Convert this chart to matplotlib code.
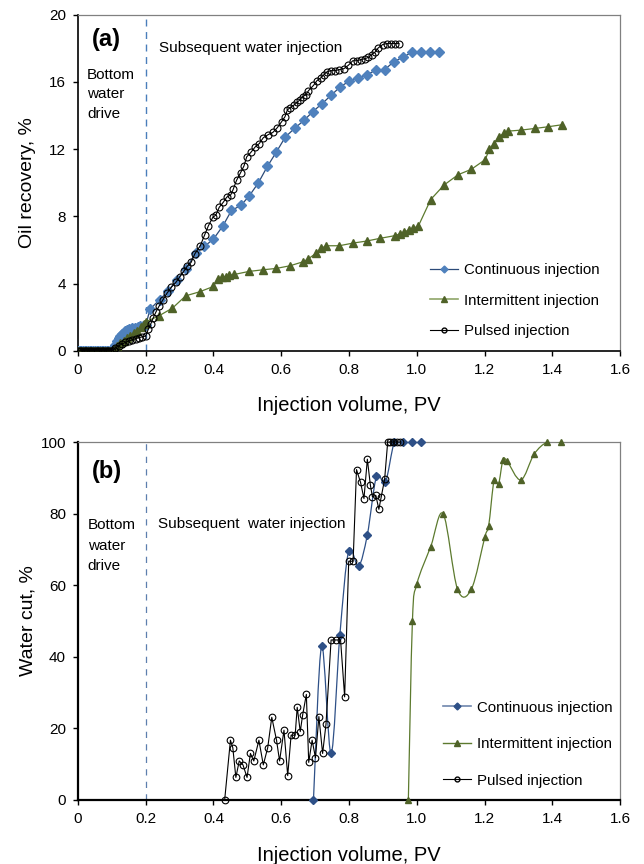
import numpy as np
import matplotlib
matplotlib.use('Agg')
import matplotlib.pyplot as plt
from matplotlib.path import Path
from matplotlib.patches import PathPatch
from matplotlib.lines import Line2D

plt.rcParams['font.family'] = ['Liberation Sans', 'DejaVu Sans']

# ---- panel (a): oil recovery ----
zero_pv = [0.000, 0.005, 0.010, 0.015, 0.020, 0.025, 0.030, 0.035, 0.040, 0.045, 0.050,
           0.055, 0.060, 0.065, 0.070, 0.075, 0.080, 0.085, 0.090, 0.095, 0.100]
zero_rec = [0.0] * 21

cont_pv_a = [0.105, 0.110, 0.115, 0.120, 0.125, 0.130, 0.138, 0.145, 0.152, 0.160, 0.168,
             0.176, 0.184, 0.192, 0.200, 0.213, 0.241, 0.267, 0.292, 0.318, 0.347,
             0.373, 0.400, 0.428, 0.453, 0.481, 0.506, 0.532, 0.559, 0.585, 0.612,
             0.640, 0.667, 0.693, 0.720, 0.748, 0.773, 0.799, 0.826, 0.852, 0.879,
             0.905, 0.932, 0.960, 0.985, 1.011, 1.038, 1.064]
cont_rec_a = [0.10, 0.35, 0.60, 0.75, 0.87, 0.97, 1.15, 1.23, 1.28, 1.33, 1.38,
              1.42, 1.46, 1.50, 1.52, 2.48, 3.04, 3.57, 4.23, 4.86, 5.81,
              6.21, 6.65, 7.44, 8.35, 8.65, 9.23, 9.98, 10.97, 11.81, 12.72,
              13.25, 13.71, 14.23, 14.70, 15.22, 15.69, 16.03, 16.23, 16.43, 16.69,
              16.73, 17.20, 17.48, 17.76, 17.76, 17.76, 17.76]

int_pv_a = [0.105, 0.115, 0.125, 0.135, 0.145, 0.155, 0.165, 0.175, 0.185, 0.195, 0.200,
            0.239, 0.279, 0.318, 0.359, 0.400, 0.412, 0.424, 0.436, 0.447, 0.461,
            0.504, 0.546, 0.585, 0.626, 0.665, 0.679, 0.703, 0.718, 0.732, 0.771,
            0.812, 0.852, 0.891, 0.935, 0.949, 0.962, 0.976, 0.990, 1.004, 1.041,
            1.080, 1.122, 1.161, 1.202, 1.214, 1.228, 1.242, 1.256, 1.269, 1.307,
            1.348, 1.387, 1.428]
int_rec_a = [0.10, 0.30, 0.45, 0.60, 0.75, 0.90, 1.05, 1.20, 1.40, 1.60, 1.72,
             2.08, 2.54, 3.27, 3.51, 3.83, 4.27, 4.38, 4.42, 4.48, 4.54,
             4.72, 4.82, 4.90, 5.06, 5.30, 5.46, 5.81, 6.09, 6.25, 6.25,
             6.41, 6.53, 6.69, 6.85, 6.95, 7.05, 7.19, 7.31, 7.40, 9.00,
             9.86, 10.48, 10.80, 11.38, 11.99, 12.33, 12.73, 12.93, 13.07, 13.13,
             13.23, 13.33, 13.45]

pul_pv_a = [0.105, 0.110, 0.120, 0.130, 0.140, 0.150, 0.160, 0.170, 0.180, 0.190, 0.200,
            0.208, 0.215, 0.222, 0.230, 0.239, 0.251, 0.263, 0.276, 0.289, 0.300,
            0.312, 0.322, 0.334, 0.345, 0.361, 0.374, 0.385, 0.398, 0.407, 0.417,
            0.429, 0.439, 0.451, 0.458, 0.468, 0.480, 0.490, 0.498, 0.510, 0.523,
            0.535, 0.547, 0.562, 0.575, 0.588, 0.601, 0.611, 0.618, 0.626, 0.638,
            0.647, 0.655, 0.663, 0.673, 0.680, 0.695, 0.705, 0.716, 0.726, 0.734,
            0.746, 0.759, 0.771, 0.785, 0.798, 0.811, 0.823, 0.834, 0.847, 0.857,
            0.867, 0.877, 0.886, 0.899, 0.911, 0.923, 0.935, 0.947]
pul_rec_a = [0.05, 0.15, 0.30, 0.40, 0.50, 0.58, 0.65, 0.72, 0.78, 0.83, 0.88,
             1.30, 1.60, 1.95, 2.30, 2.64, 3.04, 3.43, 3.79, 4.07, 4.38,
             4.72, 5.02, 5.26, 5.77, 6.25, 6.90, 7.44, 7.94, 8.08, 8.54,
             8.84, 9.14, 9.28, 9.60, 10.14, 10.60, 11.00, 11.54, 11.80, 12.13,
             12.33, 12.68, 12.87, 12.99, 13.27, 13.63, 13.93, 14.33, 14.47, 14.63,
             14.79, 14.93, 15.13, 15.23, 15.47, 15.79, 16.07, 16.23, 16.43, 16.59,
             16.67, 16.67, 16.73, 16.79, 16.99, 17.26, 17.26, 17.32, 17.38, 17.46,
             17.62, 17.78, 18.02, 18.22, 18.28, 18.28, 18.28, 18.28]

# ---- panel (b): water cut ----
cont_pv_b = [0.695, 0.719, 0.747, 0.773, 0.799, 0.828, 0.854, 0.881, 0.907, 0.934,
             0.960, 0.986, 1.012]
cont_wc_b = [0.0, 43.0, 13.0, 46.2, 69.6, 65.3, 74.1, 90.4, 88.7, 100.0,
             100.0, 100.0, 100.0]

int_pv_b = [0.975, 0.987, 1.000, 1.041, 1.078, 1.120, 1.161, 1.201, 1.212, 1.228,
            1.241, 1.254, 1.266, 1.307, 1.346, 1.385, 1.425]
int_wc_b = [0.0, 50.0, 60.3, 70.8, 79.9, 58.9, 58.9, 73.6, 76.6, 89.4,
            88.2, 95.0, 94.7, 89.4, 96.6, 100.0, 100.0]

pul_pv_b = [0.433, 0.450, 0.457, 0.466, 0.476, 0.487, 0.499, 0.509, 0.519, 0.534,
            0.547, 0.560, 0.572, 0.586, 0.595, 0.608, 0.619, 0.629, 0.641, 0.647,
            0.656, 0.663, 0.674, 0.681, 0.691, 0.701, 0.711, 0.722, 0.732, 0.747,
            0.762, 0.775, 0.787, 0.799, 0.812, 0.822, 0.834, 0.844, 0.854, 0.863,
            0.869, 0.879, 0.888, 0.895, 0.905, 0.914, 0.921, 0.929, 0.941, 0.951]
pul_wc_b = [0.0, 16.7, 14.6, 6.3, 10.9, 9.8, 6.3, 13.0, 10.9, 16.7,
            9.8, 14.6, 23.1, 16.7, 10.9, 19.5, 6.8, 18.1, 18.1, 25.9,
            19.1, 23.7, 29.5, 10.5, 16.7, 11.8, 23.3, 13.0, 21.2, 44.7,
            44.7, 44.7, 28.8, 66.7, 66.7, 92.3, 88.7, 84.2, 95.2, 87.9,
            84.7, 85.1, 81.2, 84.7, 89.6, 100.0, 100.0, 100.0, 100.0, 100.0]

labels = ['Continuous injection', 'Intermittent injection', 'Pulsed injection']
x_ticks = [0, 0.2, 0.4, 0.6, 0.8, 1.0, 1.2, 1.4, 1.6]
x_ticklabels = ['0', '0.2', '0.4', '0.6', '0.8', '1.0', '1.2', '1.4', '1.6']


def smooth_line(ax, x, y, **kw):
    # excel style smoothed line, catmull-rom as cubic bezier segments
    pts = np.column_stack([x, y])
    verts = [pts[0]]
    codes = [Path.MOVETO]
    n = len(pts)
    for i in range(n - 1):
        p0 = pts[i - 1] if i > 0 else pts[i]
        p1 = pts[i]
        p2 = pts[i + 1]
        p3 = pts[i + 2] if i + 2 < n else pts[i + 1]
        c1 = p1 + (p2 - p0) / 6.0
        c2 = p2 - (p3 - p1) / 6.0
        verts += [c1, c2, p2]
        codes += [Path.CURVE4] * 3
    ax.add_patch(PathPatch(Path(verts, codes), fill=False, **kw))


def style_axes(ax, lw_main):
    for s in ['top', 'right']:
        ax.spines[s].set_color('#808080')
        ax.spines[s].set_linewidth(0.9)
    for s in ['left', 'bottom']:
        ax.spines[s].set_color('black')
        ax.spines[s].set_linewidth(lw_main)
    ax.tick_params(direction='out', length=3.5, width=1.0, labelsize=11, pad=5)
    ax.set_xlim(0, 1.6)
    ax.set_xticks(x_ticks)
    ax.set_xticklabels(x_ticklabels)


fig = plt.figure(figsize=(6.44, 8.64), dpi=100)
ax1 = fig.add_axes([0.121, 0.594, 0.842, 0.389])
ax2 = fig.add_axes([0.121, 0.0741, 0.842, 0.4143])

# (a)
c_blue, c_blue_line = '#4F81BD', '#2B4A78'
c_green, c_green_line = '#4F6228', '#5C7A2E'

ax1.plot(zero_pv + cont_pv_a, zero_rec + cont_rec_a, color=c_blue_line, lw=0.9,
         marker='D', ms=4.8, mfc=c_blue, mec=c_blue, zorder=3)
ax1.plot(zero_pv + int_pv_a, zero_rec + int_rec_a, color=c_green_line, lw=0.9,
         marker='^', ms=5.5, mfc=c_green, mec=c_green, zorder=3)
ax1.plot(zero_pv + pul_pv_a, zero_rec + pul_rec_a, color='black', lw=0.8,
         marker='o', ms=5.0, mfc='none', mec='black', mew=0.8, zorder=4)
ax1.axvline(0.2, color='#4A7EBB', lw=1.0, ls=(0, (5, 4)), zorder=2)
style_axes(ax1, 1.2)
ax1.set_ylim(0, 20)
ax1.set_yticks([0, 4, 8, 12, 16, 20])
ax1.set_ylabel('Oil recovery, %', fontsize=14)
ax1.set_xlabel('Injection volume, PV', fontsize=14.5)
ax1.yaxis.set_label_coords(-0.077, 0.5)
ax1.xaxis.set_label_coords(0.5, -0.136)

ax1.text(0.026, 0.926, '(a)', transform=ax1.transAxes, fontsize=17, fontweight='bold',
         va='center', ha='left')
ax1.text(0.149, 0.902, 'Subsequent water injection', transform=ax1.transAxes,
         fontsize=11, va='center', ha='left')
ax1.text(0.017, 0.842, 'Bottom\nwater\ndrive', transform=ax1.transAxes,
         fontsize=11, va='top', ha='left', linespacing=1.5)

h_a = [Line2D([], [], color=c_blue_line, lw=0.9, marker='D', ms=3.5, mfc=c_blue, mec=c_blue),
       Line2D([], [], color='#8FA568', lw=1.2, marker='^', ms=4.5, mfc=c_green, mec=c_green),
       Line2D([], [], color='black', lw=0.8, marker='o', ms=3.5, mfc='none', mec='black')]
ax1.legend(h_a, labels, loc='center left', bbox_to_anchor=(0.649, 0.149), frameon=False,
           fontsize=10.8, labelspacing=1.1, handlelength=1.9, handletextpad=0.4,
           borderpad=0, borderaxespad=0)

# (b)
c_blue_b = '#2E5087'
c_green_b = '#4F6228'
smooth_line(ax2, cont_pv_b, cont_wc_b, edgecolor=c_blue_b, lw=0.9, zorder=3)
ax2.plot(cont_pv_b, cont_wc_b, ls='none', marker='D', ms=3.8, mfc=c_blue_b,
         mec=c_blue_b, zorder=3, clip_on=False)
smooth_line(ax2, int_pv_b, int_wc_b, edgecolor='#5C7A2E', lw=0.9, zorder=3)
ax2.plot(int_pv_b, int_wc_b, ls='none', marker='^', ms=5.0, mfc=c_green_b,
         mec=c_green_b, zorder=3, clip_on=False)
ax2.plot(pul_pv_b, pul_wc_b, color='black', lw=0.8, marker='o', ms=4.8,
         mfc='none', mec='black', mew=0.8, zorder=4, clip_on=False)
ax2.axvline(0.2, color='#5D7FAE', lw=0.9, ls=(0, (5, 5)), zorder=2)
style_axes(ax2, 1.6)
ax2.set_ylim(0, 100)
ax2.set_yticks([0, 20, 40, 60, 80, 100])
ax2.set_ylabel('Water cut, %', fontsize=14)
ax2.set_xlabel('Injection volume, PV', fontsize=14.5)
ax2.yaxis.set_label_coords(-0.077, 0.5)
ax2.xaxis.set_label_coords(0.5, -0.128)

ax2.text(0.026, 0.918, '(b)', transform=ax2.transAxes, fontsize=17, fontweight='bold',
         va='center', ha='left')
ax2.text(0.148, 0.771, 'Subsequent  water injection', transform=ax2.transAxes,
         fontsize=11, va='center', ha='left')
ax2.text(0.018, 0.787, 'Bottom\nwater\ndrive', transform=ax2.transAxes,
         fontsize=11, va='top', ha='left', linespacing=1.6)

h_b = [Line2D([], [], color='#6F86AD', lw=1.2, marker='D', ms=3.5, mfc=c_blue_b, mec=c_blue_b),
       Line2D([], [], color='#5C7A2E', lw=1.0, marker='^', ms=4.5, mfc=c_green_b, mec=c_green_b),
       Line2D([], [], color='black', lw=0.8, marker='o', ms=3.5, mfc='none', mec='black')]
ax2.legend(h_b, labels, loc='center left', bbox_to_anchor=(0.673, 0.156), frameon=False,
           fontsize=10.8, labelspacing=1.5, handlelength=1.9, handletextpad=0.4,
           borderpad=0, borderaxespad=0)

fig.savefig('out.png', dpi=100)
